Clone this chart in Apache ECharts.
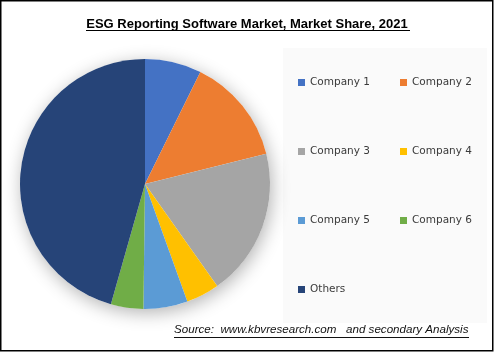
<!DOCTYPE html>
<html>
<head>
<meta charset="utf-8">
<style>html,body{margin:0;padding:0;background:#fff;}#c{width:494px;height:352px;}</style>
<script src="https://cdn.jsdelivr.net/npm/echarts@6/dist/echarts.min.js"></script>
</head>
<body>
<div id="c"></div>
<script>
const categories = ['Company 1', 'Company 2', 'Company 3', 'Company 4', 'Company 5', 'Company 6', 'Others'];
const shares = [7.3, 13.8, 19.1, 4.3, 5.7, 4.2, 45.6];
const colors = ['#4472C4', '#ED7D31', '#A5A5A5', '#FFC000', '#5B9BD5', '#70AD47', '#264478'];
const titleText = 'ESG Reporting Software Market, Market Share, 2021';
const sourceText = 'Source:  www.kbvresearch.com   and secondary Analysis';

const chart = echarts.init(document.getElementById('c'), null, {renderer: 'canvas'});

const legendPos = [
  [298, 77], [400, 77],
  [298, 146], [400, 146],
  [298, 215], [400, 215],
  [298, 284]
];
const legends = categories.map((name, i) => ({
  data: [name],
  left: legendPos[i][0],
  top: legendPos[i][1],
  padding: 0,
  orient: 'horizontal',
  icon: 'rect',
  itemWidth: 7,
  itemHeight: 7,
  selectedMode: false,
  textStyle: {fontFamily: 'DejaVu Sans', fontSize: 10.5, color: '#3a3a3a'}
}));

const option = {
  animation: false,
  backgroundColor: '#ffffff',
  color: colors,
  title: {
    text: titleText,
    left: 'center',
    top: 13,
    textStyle: {fontFamily: 'Liberation Sans', fontWeight: 'bold', fontSize: 13, color: '#000'}
  },
  legend: legends,
  graphic: [
    {type: 'rect', shape: {x: 283, y: 48, width: 204, height: 275}, style: {fill: '#FAFAFA'}, z: -10},
    {type: 'line', shape: {x1: 86, y1: 30.5, x2: 410, y2: 30.5}, style: {stroke: '#000', lineWidth: 1}},
    {type: 'text', left: 174, top: 324, style: {text: sourceText, font: 'italic 11.6px "Liberation Sans"', fill: '#111'}},
    {type: 'line', shape: {x1: 174, y1: 337.5, x2: 469, y2: 337.5}, style: {stroke: '#111', lineWidth: 1}},
    {type: 'rect', shape: {x: 0.75, y: 0.75, width: 492, height: 350}, style: {fill: 'none', stroke: '#000', lineWidth: 1.5}, z: 100}
  ],
  series: [
    {
      type: 'pie',
      silent: true,
      center: [145, 184],
      radius: 125,
      label: {show: false},
      labelLine: {show: false},
      itemStyle: {color: '#ffffff', shadowBlur: 18, shadowColor: 'rgba(0,0,0,0.3)', shadowOffsetX: 2, shadowOffsetY: 4},
      data: [{value: 1, name: '_bg'}],
      z: 1
    },
    {
      type: 'pie',
      center: [145, 184],
      radius: 125,
      startAngle: 90,
      clockwise: true,
      label: {show: false},
      labelLine: {show: false},
      itemStyle: {borderWidth: 0},
      emphasis: {disabled: true},
      data: categories.map((name, i) => ({name: name, value: shares[i], itemStyle: {color: colors[i]}})),
      z: 2
    }
  ]
};
chart.setOption(option);
</script>
</body>
</html>
